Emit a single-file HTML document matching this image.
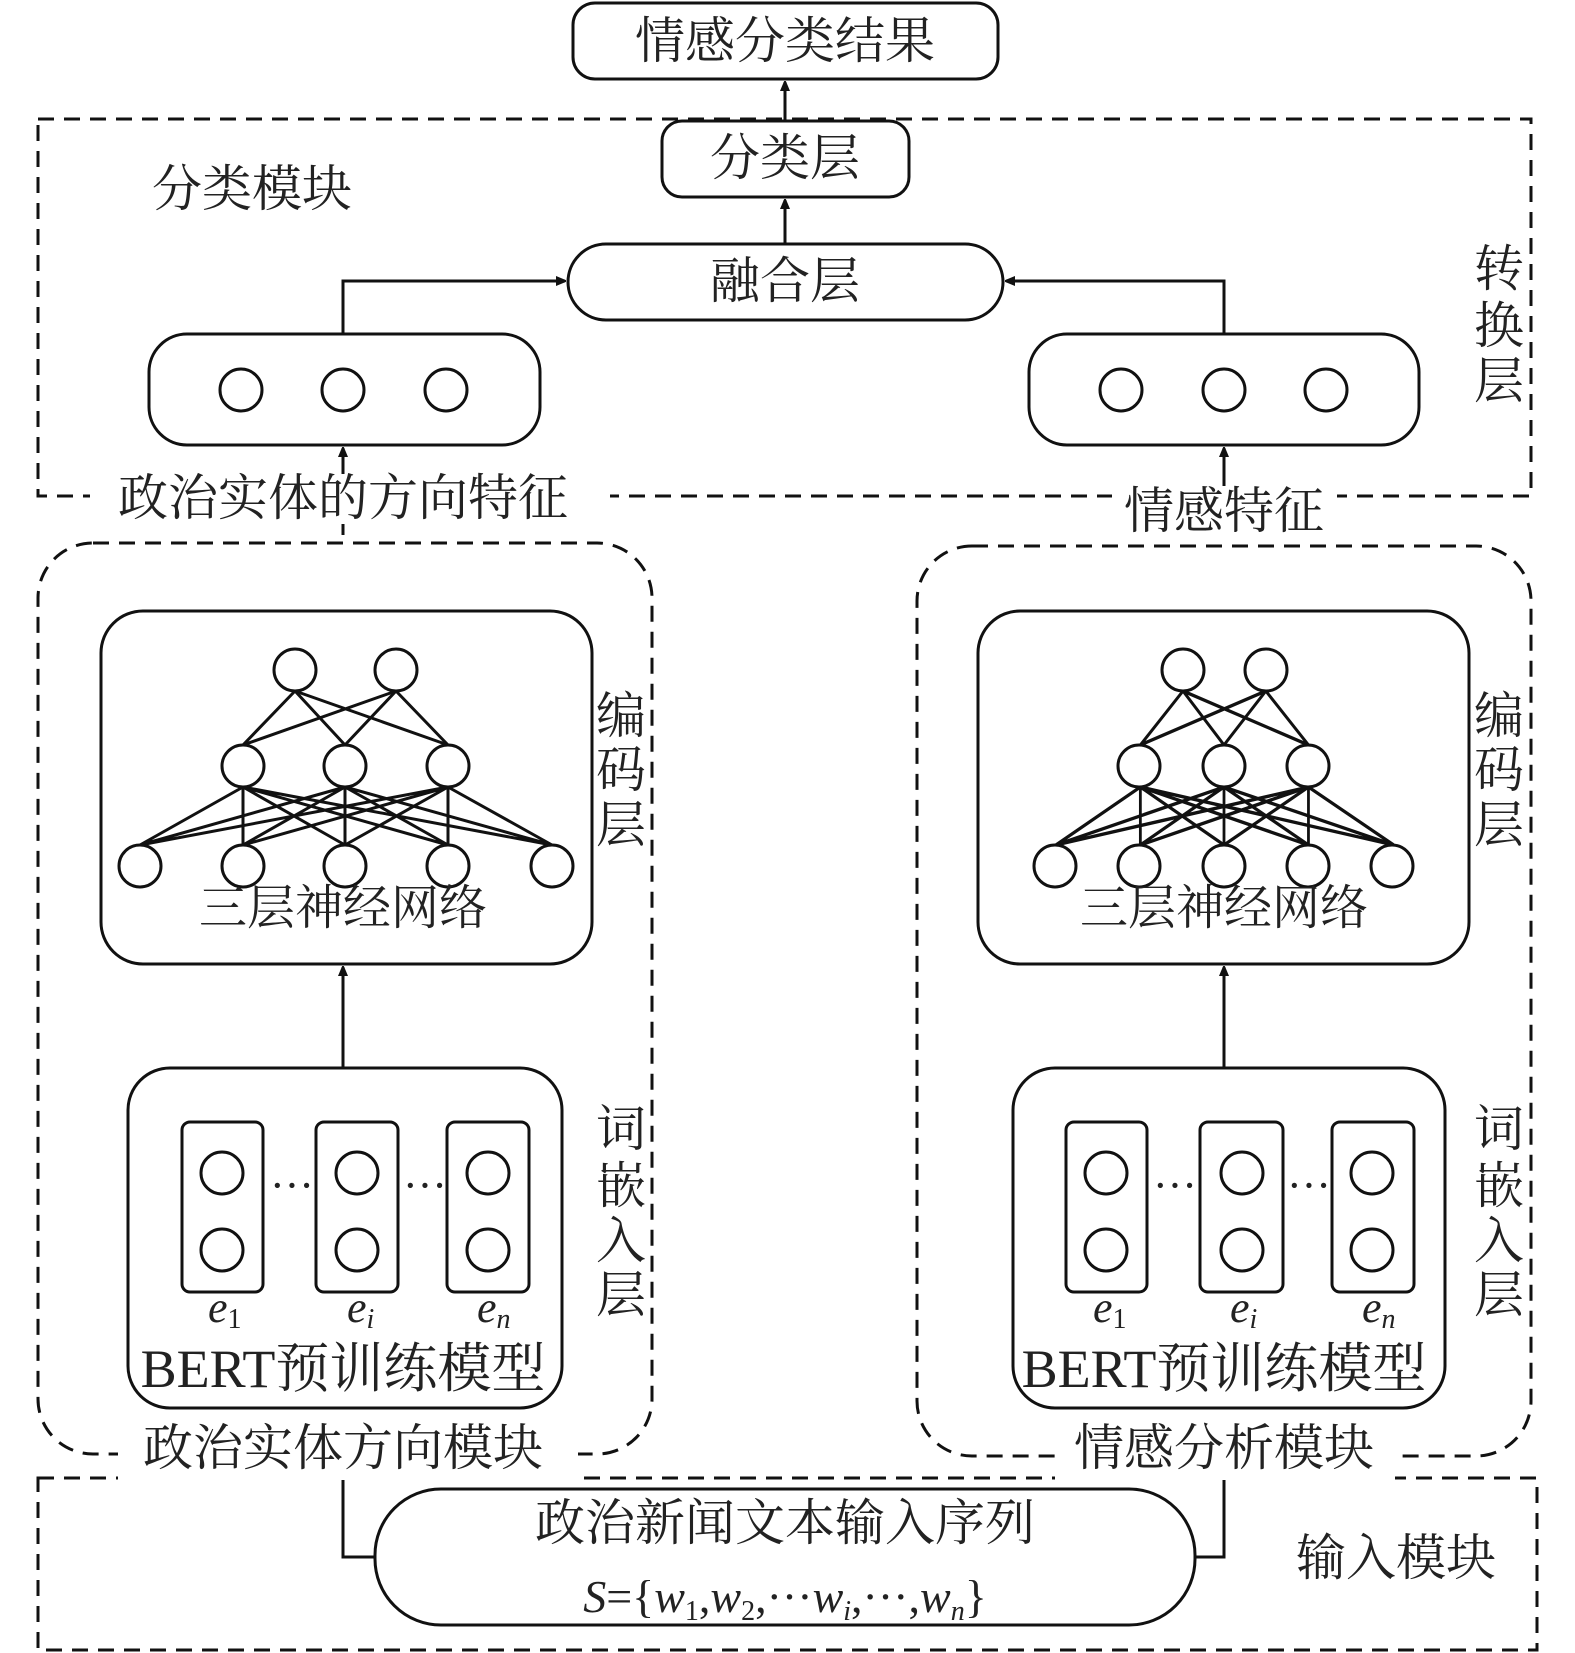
<!DOCTYPE html>
<html><head><meta charset="utf-8"><style>
html,body{margin:0;padding:0;background:#fff}
svg{display:block}
text{font-family:"Liberation Serif","Noto Serif CJK SC",serif;fill:#222}
</style></head><body>
<svg width="1575" height="1653" viewBox="0 0 1575 1653" xmlns="http://www.w3.org/2000/svg">
<defs>
<marker id="ah" markerWidth="10" markerHeight="10" refX="9" refY="5" orient="auto" markerUnits="userSpaceOnUse"><path d="M0,0 L12,5 L0,10 z" fill="#111"/></marker>
</defs>
<g fill="none" stroke="#111" stroke-width="3">
<!-- top result -->
<rect x="573" y="3" width="425" height="76" rx="22"/>
<!-- classification dashed -->
<rect x="38" y="119" width="1493" height="377" stroke-dasharray="16,10"/>
<rect x="662" y="121" width="247" height="76" rx="20"/>
<rect x="568" y="244" width="435" height="76" rx="38"/>
<rect x="149" y="334" width="391" height="111" rx="38"/>
<rect x="1029" y="334" width="390" height="111" rx="38"/>
<circle cx="241" cy="390" r="21"/><circle cx="343" cy="390" r="21"/><circle cx="446" cy="390" r="21"/>
<circle cx="1121" cy="390" r="21"/><circle cx="1224" cy="390" r="21"/><circle cx="1326" cy="390" r="21"/>
<!-- connectors -->
<line x1="785" y1="121" x2="785" y2="82" marker-end="url(#ah)"/>
<line x1="785" y1="244" x2="785" y2="200" marker-end="url(#ah)"/>
<polyline points="343,334 343,281 565,281" marker-end="url(#ah)"/>
<polyline points="1224,334 1224,281 1006,281" marker-end="url(#ah)"/>
<!-- modules -->
<rect x="38" y="543" width="614" height="911" rx="55" stroke-dasharray="16,10"/>
<rect x="917" y="546" width="614" height="910" rx="55" stroke-dasharray="16,10"/>
<rect x="101" y="611" width="491" height="353" rx="42"/>
<rect x="978" y="611" width="491" height="353" rx="42"/>
<rect x="128" y="1068" width="434" height="340" rx="42"/>
<rect x="1013" y="1068" width="432" height="340" rx="42"/>
<line x1="343" y1="1068" x2="343" y2="967" marker-end="url(#ah)"/>
<line x1="1224" y1="1068" x2="1224" y2="967" marker-end="url(#ah)"/>
<line x1="343" y1="535" x2="343" y2="448" marker-end="url(#ah)"/>
<line x1="1224" y1="535" x2="1224" y2="448" marker-end="url(#ah)"/>
<!-- input -->
<rect x="38" y="1478" width="1499" height="172" stroke-dasharray="16,10"/>
<rect x="375" y="1489" width="820" height="136" rx="66"/>
<polyline points="375,1557 343,1557 343,1468" marker-end="url(#ah)"/>
<polyline points="1195,1557 1224,1557 1224,1468" marker-end="url(#ah)"/>
</g>
<!-- networks -->
<g fill="#fff" stroke="#111" stroke-width="3" id="nets">
<g id="netL">
<path fill="none" d="M295,691 L243,745 M295,691 L448,745 M295,691 L345,745 M396,691 L243,745 M396,691 L345,745 M396,691 L448,745
M243,787 L140,845 M243,787 L243,845 M243,787 L345,845 M243,787 L448,845 M243,787 L552,845
M345,787 L140,845 M345,787 L243,845 M345,787 L345,845 M345,787 L448,845 M345,787 L552,845
M448,787 L140,845 M448,787 L243,845 M448,787 L345,845 M448,787 L448,845 M448,787 L552,845"/>
<circle cx="295" cy="670" r="21"/><circle cx="396" cy="670" r="21"/>
<circle cx="243" cy="766" r="21"/><circle cx="345" cy="766" r="21"/><circle cx="448" cy="766" r="21"/>
<circle cx="140" cy="866" r="21"/><circle cx="243" cy="866" r="21"/><circle cx="345" cy="866" r="21"/><circle cx="448" cy="866" r="21"/><circle cx="552" cy="866" r="21"/>
</g>
<g transform="translate(1224,0) scale(0.82,1) translate(-345,0)">
<path fill="none" stroke-width="3.4" d="M295,691 L243,745 M295,691 L448,745 M295,691 L345,745 M396,691 L243,745 M396,691 L345,745 M396,691 L448,745
M243,787 L140,845 M243,787 L243,845 M243,787 L345,845 M243,787 L448,845 M243,787 L552,845
M345,787 L140,845 M345,787 L243,845 M345,787 L345,845 M345,787 L448,845 M345,787 L552,845
M448,787 L140,845 M448,787 L243,845 M448,787 L345,845 M448,787 L448,845 M448,787 L552,845"/>
</g>
<circle cx="1183" cy="670" r="21"/><circle cx="1266" cy="670" r="21"/>
<circle cx="1139" cy="766" r="21"/><circle cx="1224" cy="766" r="21"/><circle cx="1308" cy="766" r="21"/>
<circle cx="1055" cy="866" r="21"/><circle cx="1139" cy="866" r="21"/><circle cx="1224" cy="866" r="21"/><circle cx="1308" cy="866" r="21"/><circle cx="1392" cy="866" r="21"/>
</g>
<!-- embeddings -->
<g fill="none" stroke="#111" stroke-width="3">
<rect x="182" y="1122" width="81" height="170" rx="8"/><rect x="316" y="1122" width="82" height="170" rx="8"/><rect x="447" y="1122" width="82" height="170" rx="8"/>
<circle cx="222" cy="1173" r="21"/><circle cx="222" cy="1250" r="21"/>
<circle cx="357" cy="1173" r="21"/><circle cx="357" cy="1250" r="21"/>
<circle cx="488" cy="1173" r="21"/><circle cx="488" cy="1250" r="21"/>
<rect x="1066" y="1122" width="81" height="170" rx="8"/><rect x="1200" y="1122" width="83" height="170" rx="8"/><rect x="1332" y="1122" width="82" height="170" rx="8"/>
<circle cx="1106" cy="1173" r="21"/><circle cx="1106" cy="1250" r="21"/>
<circle cx="1242" cy="1173" r="21"/><circle cx="1242" cy="1250" r="21"/>
<circle cx="1372" cy="1173" r="21"/><circle cx="1372" cy="1250" r="21"/>
</g>
<g font-size="44">
<text x="270" y="1200">···</text><text x="403" y="1200">···</text>
<text x="1153" y="1200">···</text><text x="1287" y="1200">···</text>
</g>
<g font-size="44" font-style="italic">
<text x="208" y="1322">e<tspan font-size="28" font-style="normal" dy="6">1</tspan></text>
<text x="347" y="1322">e<tspan font-size="28" dy="6">i</tspan></text>
<text x="477" y="1322">e<tspan font-size="28" dy="6">n</tspan></text>
<text x="1093" y="1322">e<tspan font-size="28" font-style="normal" dy="6">1</tspan></text>
<text x="1230" y="1322">e<tspan font-size="28" dy="6">i</tspan></text>
<text x="1362" y="1322">e<tspan font-size="28" dy="6">n</tspan></text>
</g>
<!-- labels -->
<g font-size="50" text-anchor="middle">
<text x="785" y="58">情感分类结果</text>
<text x="785" y="175">分类层</text>
<text x="785" y="298">融合层</text>
<text x="252" y="206">分类模块</text>
<text x="343" y="924" font-size="48">三层神经网络</text>
<text x="1224" y="924" font-size="48">三层神经网络</text>
<text x="343" y="1387" font-size="54">BERT预训练模型</text>
<text x="1224" y="1387" font-size="54">BERT预训练模型</text>
<text x="1396" y="1575">输入模块</text>
<text x="785" y="1540">政治新闻文本输入序列</text>
<text x="785" y="1612" font-size="46"><tspan font-style="italic">S</tspan>={<tspan font-style="italic">w</tspan><tspan font-size="28" dy="8">1</tspan><tspan dy="-8">,</tspan><tspan font-style="italic">w</tspan><tspan font-size="28" dy="8">2</tspan><tspan dy="-8">,···</tspan><tspan font-style="italic">w</tspan><tspan font-size="28" font-style="italic" dy="8">i</tspan><tspan dy="-8">,···,</tspan><tspan font-style="italic">w</tspan><tspan font-size="28" font-style="italic" dy="8">n</tspan><tspan dy="-8">}</tspan></text>
</g>
<g font-size="50">
<rect x="90" y="474" width="520" height="50" fill="#fff"/>
<text x="343" y="515" text-anchor="middle">政治实体的方向特征</text>
<rect x="1112" y="486" width="225" height="50" fill="#fff"/>
<text x="1224" y="528" text-anchor="middle">情感特征</text>
<rect x="118" y="1430" width="460" height="50" fill="#fff"/>
<text x="343" y="1465" text-anchor="middle">政治实体方向模块</text>
<rect x="1055" y="1430" width="340" height="50" fill="#fff"/>
<text x="1224" y="1465" text-anchor="middle">情感分析模块</text>
</g>
<g font-size="50" text-anchor="middle">
<text x="1499" y="286">转</text><text x="1499" y="343">换</text><text x="1499" y="398">层</text>
<text x="621" y="733">编</text><text x="621" y="787">码</text><text x="621" y="842">层</text>
<text x="1499" y="733">编</text><text x="1499" y="787">码</text><text x="1499" y="842">层</text>
<text x="621" y="1146">词</text><text x="621" y="1203">嵌</text><text x="621" y="1258">入</text><text x="621" y="1312">层</text>
<text x="1499" y="1146">词</text><text x="1499" y="1203">嵌</text><text x="1499" y="1258">入</text><text x="1499" y="1312">层</text>
</g>
</svg>
</body></html>
